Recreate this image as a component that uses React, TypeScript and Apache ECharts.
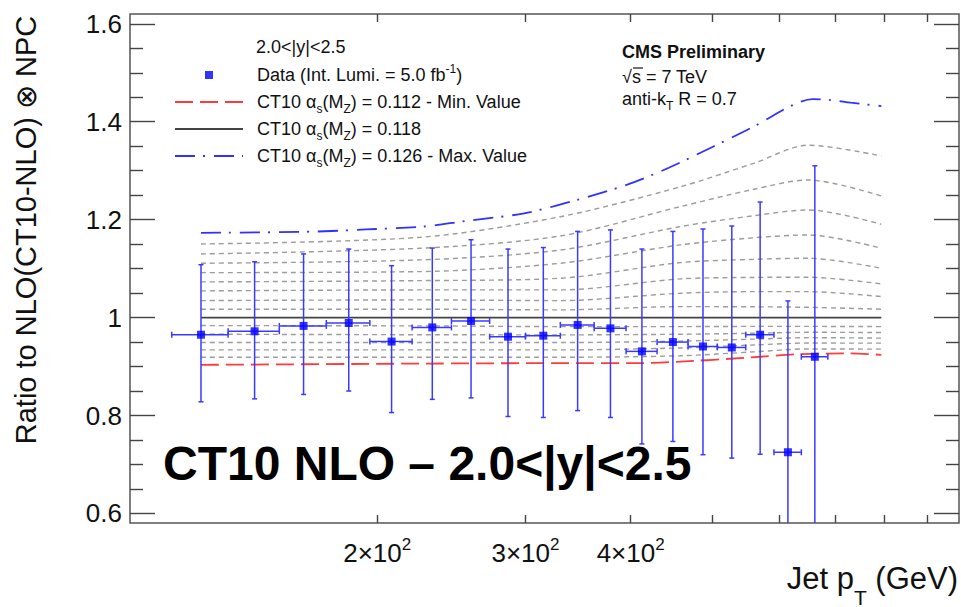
import React, { useEffect, useRef } from 'react';
import * as echarts from 'echarts';

const FONT = "'Liberation Sans', Arial, Helvetica, sans-serif";

// ---- measured data (jet pT bins, GeV) ----
const binCenters = [123.5, 143, 163.5, 185, 208, 232.5, 258.5, 286, 315, 346, 378.5, 412.5, 449, 487.5, 527.5, 570, 615, 662];
const binLow = [114, 133, 153, 174, 196, 220, 245, 272, 300, 330, 362, 395, 430, 468, 507, 548, 592, 638];
const binHigh = [133, 153, 174, 196, 220, 245, 272, 300, 330, 362, 395, 430, 468, 507, 548, 592, 638, 686];
const dataRatio = [0.965, 0.972, 0.983, 0.989, 0.951, 0.980, 0.993, 0.961, 0.963, 0.985, 0.978, 0.931, 0.950, 0.941, 0.939, 0.965, 0.725, 0.920];
const errHigh = [1.108, 1.114, 1.130, 1.140, 1.106, 1.142, 1.159, 1.140, 1.143, 1.176, 1.179, 1.140, 1.176, 1.181, 1.187, 1.236, 1.034, 1.310];
const errLow = [0.828, 0.834, 0.843, 0.850, 0.806, 0.833, 0.836, 0.798, 0.796, 0.810, 0.796, 0.742, 0.747, 0.720, 0.713, 0.721, 0.410, 0.530];

// ---- theory curves ----
const maxPt = [123.5, 167, 194, 227, 254, 299, 345, 397, 444, 501, 560, 623, 658, 694, 730, 794];
const maxRatio = [1.173, 1.1755, 1.180, 1.186, 1.197, 1.213, 1.240, 1.272, 1.306, 1.349, 1.390, 1.434, 1.446, 1.444, 1.439, 1.432];
const minPt = [123.5, 225, 330, 410, 458, 549, 629, 720, 794];
const minRatio = [0.9035, 0.906, 0.907, 0.907, 0.910, 0.918, 0.925, 0.927, 0.924];
const centralPt = [123.5, 794];
const centralRatio = [1.0, 1.0];

const scanPt = [123.5, 225, 330, 458, 560, 650, 794];
const scanUp1 = [1.0171, 1.0171, 1.0157, 1.0224, 1.022, 1.021, 1.0171];
const scanUp2 = [1.0347, 1.0361, 1.0347, 1.0497, 1.053, 1.053, 1.0429];
const scanUp3 = [1.0545, 1.0565, 1.0565, 1.079, 1.082, 1.0824, 1.0688];
const scanUp4 = [1.0729, 1.0755, 1.0804, 1.1122, 1.119, 1.1212, 1.1008];
const scanUp5 = [1.0918, 1.0939, 1.111, 1.1484, 1.163, 1.1688, 1.1416];
const scanUp6 = [1.111, 1.1178, 1.138, 1.1857, 1.208, 1.2198, 1.1906];
const scanUp7 = [1.130, 1.1416, 1.1667, 1.2265, 1.262, 1.281, 1.2484];
const scanUp8 = [1.1504, 1.164, 1.206, 1.267, 1.315, 1.352, 1.330];
const scanDn1 = [0.9837, 0.983, 0.9816, 0.9816, 0.982, 0.982, 0.9816];
const scanDn2 = [0.966, 0.965, 0.9647, 0.966, 0.968, 0.970, 0.9694];
const scanDn3 = [0.949, 0.949, 0.949, 0.952, 0.956, 0.959, 0.958];
const scanDn4 = [0.934, 0.934, 0.934, 0.938, 0.944, 0.948, 0.9478];
const scanDn5 = [0.919, 0.919, 0.919, 0.922, 0.930, 0.936, 0.9355];

// ---- axis ticks ----
const yMajorTicks = [0.6, 0.8, 1.0, 1.2, 1.4, 1.6];
const yMinorTicks = [0.65, 0.7, 0.75, 0.85, 0.9, 0.95, 1.05, 1.1, 1.15, 1.25, 1.3, 1.35, 1.45, 1.5, 1.55];
const xTicks = [200, 300, 400, 500, 600, 700, 800, 900];
const xLabelTicks = [200, 300, 400];

const DATA_NAME = 'Data (Int. Lumi. = 5.0 fb⁻¹)';
const MIN_NAME = 'CT10 αs(MZ) = 0.112 - Min. Value';
const CEN_NAME = 'CT10 αs(MZ) = 0.118';
const MAX_NAME = 'CT10 αs(MZ) = 0.126 - Max. Value';

const pairs = (xs: number[], ys: number[]) => xs.map((x, i) => [x, ys[i]]);

export default function App() {
  const ref = useRef<HTMLDivElement>(null);

  useEffect(() => {
    const chart = echarts.init(ref.current!, null, { renderer: 'svg' });

    const scans = [scanUp1, scanUp2, scanUp3, scanUp4, scanUp5, scanUp6, scanUp7, scanUp8, scanDn1, scanDn2, scanDn3, scanDn4, scanDn5];
    const scanSeries = scans.map((arr, i) => ({
      type: 'line',
      name: 'CT10 αs scan ' + (i + 1),
      data: pairs(scanPt, arr),
      symbol: 'none',
      smooth: 0.3,
      silent: true,
      z: 1,
      lineStyle: { color: '#9c9c9c', width: 1.4, type: [5, 4] },
    }));

    const errData = binCenters.map((x, i) => [x, dataRatio[i], binLow[i], binHigh[i], errLow[i], errHigh[i]]);

    const tickLine = { color: '#444', width: 1.4 };
    const yBase = {
      type: 'value',
      min: 0.5805,
      max: 1.62,
      axisLine: { show: false },
      splitLine: { show: false },
    };
    const xBase = {
      type: 'log',
      min: 101.7,
      max: 982,
      axisLine: { show: false },
      splitLine: { show: false },
      minorTick: { show: false },
    };

    const option: any = {
      animation: false,
      textStyle: { fontFamily: FONT },
      grid: {
        left: 130, right: 2, top: 14, bottom: 84,
        show: true, borderColor: '#555', borderWidth: 1.5,
        containLabel: false, outerBoundsMode: 'none',
      },
      xAxis: [
        {
          ...xBase,
          position: 'bottom',
          axisTick: { show: true, inside: true, length: 8, customValues: xTicks, lineStyle: tickLine },
          axisLabel: {
            show: true,
            customValues: xLabelTicks,
            margin: 12,
            color: '#111',
            fontSize: 26,
            lineHeight: 36,
            fontFamily: FONT,
            formatter: (v: number) => `${Math.round(v / 100)}×10{sup|2}`,
            rich: { sup: { fontSize: 17, lineHeight: 17, padding: [0, 0, 18, 0], fontFamily: FONT, color: '#111' } },
          },
        },
        {
          ...xBase,
          position: 'top',
          axisTick: { show: true, inside: true, length: 8, customValues: xTicks, lineStyle: tickLine },
          axisLabel: { show: false },
        },
      ],
      yAxis: [
        {
          ...yBase,
          position: 'left',
          axisTick: { show: true, inside: true, length: 25, customValues: yMajorTicks, lineStyle: tickLine },
          axisLabel: {
            show: true,
            customValues: yMajorTicks,
            margin: 8,
            color: '#111',
            fontSize: 26,
            fontFamily: FONT,
            formatter: (v: number) => (Math.abs(v - 1) < 1e-9 ? '1' : v.toFixed(1)),
          },
        },
        {
          ...yBase,
          position: 'left',
          axisTick: { show: true, inside: true, length: 13, customValues: yMinorTicks, lineStyle: tickLine },
          axisLabel: { show: false },
        },
        {
          ...yBase,
          position: 'right',
          axisTick: { show: true, inside: true, length: 25, customValues: yMajorTicks, lineStyle: tickLine },
          axisLabel: { show: false },
        },
        {
          ...yBase,
          position: 'right',
          axisTick: { show: true, inside: true, length: 13, customValues: yMinorTicks, lineStyle: tickLine },
          axisLabel: { show: false },
        },
      ],
      legend: {
        orient: 'vertical',
        left: 174,
        top: 62,
        padding: 0,
        itemWidth: 68,
        itemHeight: 8,
        itemGap: 1,
        selectedMode: false,
        symbolKeepAspect: true,
        data: [
          { name: DATA_NAME, icon: 'path://M0,0L10,0L10,10L0,10Z' },
          { name: MIN_NAME, itemStyle: { opacity: 0 } },
          { name: CEN_NAME, itemStyle: { opacity: 0 } },
          { name: MAX_NAME, itemStyle: { opacity: 0 } },
        ],
        formatter: (name: string) =>
          name.replace('αs(MZ)', 'α{sub|s}(M{sub|Z})').replace('⁻¹', '{sup|-1}'),
        textStyle: {
          fontFamily: FONT,
          fontSize: 18,
          lineHeight: 26,
          color: '#111',
          padding: [0, 0, 0, 9],
          rich: {
            sub: { fontSize: 12, lineHeight: 12, padding: [14, 0, 0, 0], fontFamily: FONT, color: '#111' },
            sup: { fontSize: 12, lineHeight: 12, padding: [0, 0, 12, 0], fontFamily: FONT, color: '#111' },
          },
        },
      },
      graphic: [
        {
          type: 'text', x: 256, y: 47, silent: true,
          style: { text: '2.0<|y|<2.5', fontSize: 18, fontFamily: FONT, fill: '#111', align: 'left', verticalAlign: 'middle' },
        },
        {
          type: 'text', x: 622, y: 52, silent: true,
          style: { text: 'CMS Preliminary', fontSize: 18, fontWeight: 'bold', fontFamily: FONT, fill: '#111', align: 'left', verticalAlign: 'middle' },
        },
        {
          type: 'text', x: 622, y: 77, silent: true,
          style: { text: '√s = 7 TeV', fontSize: 18, fontFamily: FONT, fill: '#111', align: 'left', verticalAlign: 'middle' },
        },
        {
          type: 'line', silent: true,
          shape: { x1: 633, y1: 68, x2: 643, y2: 68 },
          style: { stroke: '#111', lineWidth: 1.2 },
        },
        {
          type: 'text', x: 622, y: 99, silent: true,
          style: {
            text: 'anti-k{sub|T} R = 0.7', fontSize: 18, lineHeight: 26, fontFamily: FONT, fill: '#111', align: 'left', verticalAlign: 'middle',
            rich: { sub: { fontSize: 12, lineHeight: 12, padding: [14, 0, 0, 0], fontFamily: FONT, fill: '#111' } },
          },
        },
        {
          type: 'text', x: 163, y: 463, silent: true, z: 10,
          style: { text: 'CT10 NLO – 2.0<|y|<2.5', fontSize: 48, fontWeight: 'bold', fontFamily: FONT, fill: '#000', align: 'left', verticalAlign: 'middle' },
        },
        {
          type: 'text', x: 26, y: 230, rotation: Math.PI / 2, silent: true,
          style: { text: 'Ratio to NLO(CT10-NLO) ⊗ NPC', fontSize: 29, fontFamily: FONT, fill: '#111', align: 'center', verticalAlign: 'middle' },
        },
        {
          type: 'text', x: 958, y: 578, silent: true,
          style: {
            text: 'Jet p{sub|T} (GeV)', fontSize: 31, lineHeight: 36, fontFamily: FONT, fill: '#111', align: 'right', verticalAlign: 'middle',
            rich: { sub: { fontSize: 21, lineHeight: 21, padding: [38, 0, 0, 0], fontFamily: FONT, fill: '#111' } },
          },
        },
      ],
      series: [
        ...scanSeries,
        {
          type: 'line', name: MIN_NAME, data: pairs(minPt, minRatio), symbol: 'none', smooth: 0.25, z: 2,
          lineStyle: { color: '#ff3a3a', width: 1.8, type: [18, 7] },
          itemStyle: { color: '#ff3a3a' },
        },
        {
          type: 'line', name: CEN_NAME, data: pairs(centralPt, centralRatio), symbol: 'none', z: 2,
          lineStyle: { color: '#444', width: 1.6, type: 'solid' },
          itemStyle: { color: '#444' },
        },
        {
          type: 'line', name: MAX_NAME, data: pairs(maxPt, maxRatio), symbol: 'none', smooth: 0.3, z: 2,
          lineStyle: { color: '#3030ff', width: 1.8, type: [20, 8, 2, 9] },
          itemStyle: { color: '#3030ff' },
        },
        {
          type: 'custom',
          name: 'Data uncertainties',
          data: errData,
          z: 3,
          silent: true,
          encode: { x: 0, y: 1 },
          renderItem: (params: any, api: any) => {
            const x = api.value(0), y = api.value(1);
            const xl = api.value(2), xh = api.value(3), yl = api.value(4), yh = api.value(5);
            const c = api.coord([x, y]);
            const pl = api.coord([xl, y]);
            const ph = api.coord([xh, y]);
            const pt = api.coord([x, yh]);
            const pb = api.coord([x, yl]);
            const cs = params.coordSys;
            const top = Math.max(pt[1], cs.y);
            const bot = Math.min(pb[1], cs.y + cs.height);
            const style = { stroke: '#3a3aff', lineWidth: 1.5 };
            const children: any[] = [
              { type: 'line', shape: { x1: c[0], y1: top, x2: c[0], y2: bot }, style },
              { type: 'line', shape: { x1: pl[0], y1: c[1], x2: ph[0], y2: c[1] }, style },
              { type: 'line', shape: { x1: pl[0], y1: c[1] - 3, x2: pl[0], y2: c[1] + 3 }, style },
              { type: 'line', shape: { x1: ph[0], y1: c[1] - 3, x2: ph[0], y2: c[1] + 3 }, style },
            ];
            if (pt[1] >= cs.y) children.push({ type: 'line', shape: { x1: c[0] - 2.5, y1: pt[1], x2: c[0] + 2.5, y2: pt[1] }, style });
            if (pb[1] <= cs.y + cs.height) children.push({ type: 'line', shape: { x1: c[0] - 2.5, y1: pb[1], x2: c[0] + 2.5, y2: pb[1] }, style });
            return { type: 'group', children };
          },
        },
        {
          type: 'scatter',
          name: DATA_NAME,
          data: pairs(binCenters, dataRatio),
          symbol: 'rect',
          symbolSize: 8,
          z: 4,
          itemStyle: { color: '#0000ff' },
        },
      ],
    };

    chart.setOption(option);
    return () => chart.dispose();
  }, []);

  return (
    <div
      ref={ref}
      style={{ position: 'fixed', left: 0, top: 0, width: 961, height: 607, background: '#ffffff' }}
    />
  );
}
